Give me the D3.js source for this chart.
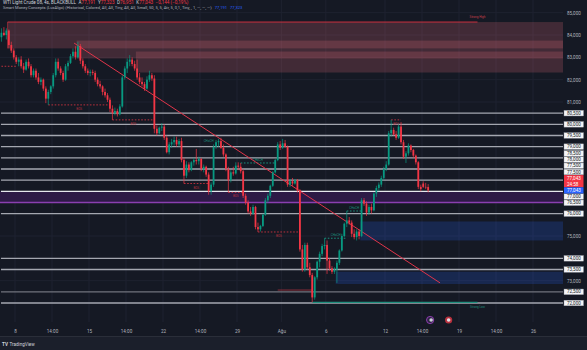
<!DOCTYPE html>
<html><head><meta charset="utf-8">
<script src="https://cdn.jsdelivr.net/npm/d3@7/dist/d3.min.js"></script>
<style>html,body{margin:0;padding:0;background:#151924;overflow:hidden}svg{display:block}</style>
</head><body><svg id="c" width="587" height="350"></svg>
<script>
// ---------- DATA ----------
const opens  = [83.9,84.1,84.0,84.2,83.55,83.3,83.0,82.8,82.9,82.6,82.45,82.8,82.6,82.2,82.4,82.1,81.9,82.0,81.6,81.15,
81.45,81.7,82.2,82.8,82.5,82.3,82.0,82.6,82.75,83.05,83.25,83.0,83.5,82.85,82.6,82.4,82.3,82.35,82.3,82.0,
81.8,81.7,81.45,81.3,81.1,80.7,80.5,80.6,80.45,80.8,82.1,82.5,82.8,82.9,82.7,82.5,82.1,81.9,81.8,81.6,
82.0,82.2,82.05,79.8,79.6,79.85,79.9,79.4,78.75,79.1,79.2,79.3,79.1,79.25,78.4,77.7,78.2,77.95,78.3,78.4,
78.35,78.45,78.0,78.1,77.75,77.0,77.3,79.0,79.2,79.25,78.95,78.65,78.0,77.5,77.85,77.8,78.15,78.1,77.9,76.8,
76.5,76.1,76.0,76.3,75.4,75.3,75.45,75.95,76.6,76.8,77.25,77.85,78.4,79.1,78.95,79.15,79.0,77.3,77.45,77.35,
77.5,77.05,74.4,73.5,74.6,73.6,73.25,72.25,73.15,73.85,74.2,74.55,74.6,73.9,73.55,73.4,73.5,73.8,74.35,75.0,
75.55,75.7,75.6,75.1,74.95,75.2,75.0,76.6,76.45,76.05,76.3,76.15,76.9,77.15,77.3,77.6,78.0,78.2,79.6,79.75,
79.55,79.4,79.9,79.2,78.55,78.7,79.05,78.85,78.6,78.3,77.2,77.35,77.2,77.191];
const highs  = [84.3,84.35,84.3,84.25,83.7,83.4,83.1,83.0,83.05,82.75,82.9,82.95,82.7,82.5,82.5,82.3,82.1,82.05,81.7,81.55,
81.75,82.3,82.95,82.95,82.6,82.4,82.7,82.85,83.15,83.4,83.5,83.7,83.6,82.95,82.7,82.5,82.45,82.45,82.4,82.1,
81.95,81.75,81.6,81.4,81.2,80.85,80.75,80.7,80.9,82.2,82.6,82.95,83.1,83.0,82.85,82.9,82.3,82.1,81.9,82.15,
82.4,82.3,82.2,79.95,79.9,80.05,80.0,79.5,79.2,79.35,79.45,79.45,79.35,79.4,78.5,78.35,78.3,78.35,78.5,78.9,
78.55,78.5,78.2,78.15,77.85,77.4,79.1,79.3,79.35,79.4,79.1,78.7,78.1,77.95,78.1,78.3,78.3,78.27,78.0,76.9,
76.6,76.3,76.4,76.35,75.6,75.5,76.0,76.7,76.9,77.3,77.9,78.45,79.2,79.25,79.35,79.3,79.05,77.55,77.6,77.55,
77.55,77.1,74.6,74.7,74.7,73.8,73.35,73.2,73.9,74.3,74.65,74.9,74.8,74.0,73.65,73.6,73.9,74.4,75.1,75.6,
76.12,75.85,75.7,75.3,75.3,75.3,76.7,76.7,76.55,76.4,76.45,76.95,77.25,77.4,77.7,78.1,78.35,79.7,80.2,79.85,
79.7,80.0,80.1,79.3,78.8,79.15,79.1,78.9,78.65,78.35,77.3,77.45,77.38,77.323];
const lows   = [83.7,83.95,83.8,83.4,83.2,82.9,82.7,82.6,82.5,82.3,82.4,82.5,82.1,82.1,82.0,81.8,81.75,81.5,80.95,80.87,
81.35,81.6,82.1,82.4,82.2,81.9,81.95,82.4,82.7,82.95,82.9,82.95,82.7,82.5,82.3,82.2,82.15,82.2,81.9,81.7,
81.6,81.3,81.2,81.0,80.55,80.2,80.4,80.35,80.4,80.75,82.0,82.3,82.6,82.6,82.4,82.0,81.8,81.7,81.5,81.55,
81.9,81.95,79.6,79.5,79.55,79.7,79.3,78.7,78.65,78.95,79.05,79.0,79.0,78.3,77.35,77.6,77.85,77.9,78.15,78.2,
78.2,77.9,77.85,77.65,76.85,76.85,77.2,78.9,79.0,78.9,78.55,77.9,76.95,77.4,77.7,77.75,77.95,77.8,76.7,76.4,
76.0,75.9,75.95,75.3,75.18,75.2,75.4,75.9,76.5,76.7,77.2,77.8,78.35,78.85,78.9,78.95,77.2,77.2,77.25,77.3,
76.95,74.3,73.4,73.4,73.5,73.15,72.03,72.15,73.05,73.6,74.1,74.4,73.3,73.45,73.3,73.3,72.9,73.7,74.3,74.95,
75.4,75.5,74.95,74.85,74.8,74.85,74.95,76.35,75.9,75.95,76.0,76.1,76.75,77.0,77.2,77.5,77.9,78.15,79.45,79.5,
79.3,79.35,79.1,78.45,78.27,78.6,78.75,78.5,78.2,77.1,77.0,77.15,77.1,76.951];
const closes = [84.1,84.0,84.2,83.55,83.3,83.0,82.8,82.9,82.6,82.45,82.8,82.6,82.2,82.4,82.1,81.9,82.0,81.6,81.15,81.45,
81.7,82.2,82.8,82.5,82.3,82.0,82.6,82.75,83.05,83.25,83.0,83.5,82.85,82.6,82.4,82.3,82.35,82.3,82.0,81.8,
81.7,81.45,81.3,81.1,80.7,80.5,80.6,80.45,80.8,82.1,82.5,82.8,82.9,82.7,82.5,82.1,81.9,81.8,81.6,82.0,
82.2,82.05,79.8,79.6,79.85,79.9,79.4,78.75,79.1,79.2,79.3,79.1,79.25,78.4,77.7,78.2,77.95,78.3,78.4,78.35,
78.45,78.0,78.1,77.75,77.0,77.3,79.0,79.2,79.25,78.95,78.65,78.0,77.5,77.85,77.8,78.15,78.1,77.9,76.8,76.5,
76.1,76.0,76.3,75.4,75.3,75.45,75.95,76.6,76.8,77.25,77.85,78.4,79.1,78.95,79.15,79.0,77.3,77.45,77.35,77.5,
77.05,74.4,73.5,74.6,73.6,73.25,72.25,73.15,73.85,74.2,74.55,74.6,73.9,73.55,73.4,73.5,73.8,74.35,75.0,75.55,
75.7,75.6,75.1,74.95,75.2,75.0,76.6,76.45,76.05,76.3,76.15,76.9,77.15,77.3,77.6,78.0,78.2,79.6,79.75,79.55,
79.4,79.9,79.2,78.55,78.7,79.05,78.85,78.6,78.3,77.2,77.1,77.2,77.191,77.043];

const barsPerDay = 6;
const firstBarDay = -1;            // trading-day index of first bar (0 = 8 Jul)
const tickDays   = [0, 2.5, 5, 7.5, 10, 12.5, 15, 18, 21, 25, 27.5, 30, 32.5, 35];
const tickLabels = ["8","14:00","15","14:00","22","14:00","29","Ağu","6","12","14:00","19","14:00","26"];
const priceTicks = [85, 84, 83, 82, 81, 75, 73];
const gridPrices = [73,74,75,76,77,78,79,80,81,82,83,84,85];
const levels = [80.5, 80, 79.5, 79, 78.5, 78, 77.5, 77, 76, 74, 73.5, 72.5, 72];
const levelLabels = [80.5, 80, 79.5, 79, 78.5, 78, 77.5, 77.5, 77, 76.5, 76, 74, 73.5, 72.5, 72];
// [start bar, top, bottom]
const bearZones = [[3, 84.58, 83.4], [31, 83.75, 82.95], [55, 83.26, 82.32]];
const bullZones = [[146, 75.65, 74.8], [136, 73.4, 72.85]];
const purpleZone = [77.0, 76.5];
// [from bar, to bar, price, side, label]
const structLines = [
  [0, 6, 82.6, "bear", ""],
  [19, 44, 80.87, "bear", "BOS"],
  [45, 62, 80.2, "bear", "BOS"],
  [74, 84, 77.35, "bear", "BOS"],
  [92, 98, 76.95, "bear", "BOS"],
  [97, 111, 78.27, "bull", "CHoCH"],
  [104, 121, 75.18, "bear", "BOS"],
  [131, 140, 74.9, "bull", "CHoCH"],
  [140, 146, 76.12, "bull", "CHoCH"],
  [158, 162, 80.2, "bear", "BOS"]
];
const chochLabels = [[84, 79.2, "CHoCH"]];
const strongHigh = [3, 193, 84.58, "Strong High"];
const strongLow  = [126, 193, 72.03, "Strong Low"];
const weakLine   = [112, 126, 72.58];
const trendLine  = [[3.99, 83.64], [28.72, 72.9]];   // [day, price]
const eventDays  = [28.05, 29.3];
const header1 = "WTI Light Crude 08, 4s, BLACKBULL";
const ohlcNames = ["A","Y","D","K"];
const change = "−0,144 (−0,19%)";
const header2 = "Smart Money Concepts (LuxAlgo) (Historical, Colored, All, All, Tiny, All, All, Small, 50, 5, 5, Atr, 5, 0,1, Tiny, , 1, —, —, —)";
const header2Vals = [77.191, 77.323];
const countdown = "24:58";

// ---------- SETUP ----------
const W = 587, H = 350, plotR = 563, plotB = 322;
const svg = d3.select("#c");
const FONT = "Roboto, 'Liberation Sans', sans-serif";
const loc = d3.formatLocale({decimal: ",", thousands: ".", grouping: [3], currency: ["", ""]});
const f3 = loc.format(".3f");
const x = d3.scaleLinear().domain([-1, 37]).range([0.2, 562.6]);
const y = d3.scaleLinear().domain([72, 84]).range([303, 35]);
const barDay = k => firstBarDay + (k + 0.5) / barsPerDay;
const bx = k => x(barDay(k));
const step = x(1 / barsPerDay) - x(0);

svg.append("rect").attr("width", W).attr("height", H).attr("fill", "#151924");
svg.append("rect").attr("y", 337).attr("width", W).attr("height", 13).attr("fill", "#1b1f2b");

const clip = svg.append("defs").append("clipPath").attr("id", "pc")
  .append("rect").attr("width", plotR).attr("height", plotB);
const plot = svg.append("g").attr("clip-path", "url(#pc)");

// grid
plot.append("g").selectAll("line").data(tickDays).join("line")
  .attr("x1", d => x(d)).attr("x2", d => x(d)).attr("y1", 0).attr("y2", plotB)
  .attr("stroke", "#1e2230").attr("stroke-width", 1);
plot.append("g").selectAll("line").data(gridPrices).join("line")
  .attr("x1", 0).attr("x2", plotR).attr("y1", d => y(d)).attr("y2", d => y(d))
  .attr("stroke", "#1e2230").attr("stroke-width", 1);

// bearish order blocks
plot.append("g").selectAll("rect").data(bearZones).join("rect")
  .attr("x", d => bx(d[0]) - step / 2).attr("width", d => plotR + 1 - (bx(d[0]) - step / 2))
  .attr("y", d => y(d[1])).attr("height", d => y(d[2]) - y(d[1]))
  .attr("fill", "rgba(232,110,122,0.21)");
plot.append("line").attr("x1", bx(bearZones[0][0]) - step / 2).attr("x2", bx(bearZones[0][0]) - step / 2)
  .attr("y1", y(bearZones[0][1])).attr("y2", y(bearZones[0][2]))
  .attr("stroke", "rgba(242,54,69,0.6)").attr("stroke-width", 0.8);

// bullish order blocks
plot.append("g").selectAll("rect").data(bullZones).join("rect")
  .attr("x", d => bx(d[0]) - step / 2).attr("width", d => plotR + 1 - (bx(d[0]) - step / 2))
  .attr("y", d => y(d[1])).attr("height", d => y(d[2]) - y(d[1]))
  .attr("fill", "rgba(41,98,255,0.2)");

// purple zone
plot.append("rect").attr("x", 0).attr("width", plotR).attr("y", y(purpleZone[0]))
  .attr("height", y(purpleZone[1]) - y(purpleZone[0])).attr("fill", "#2d1a46");
plot.append("line").attr("x1", 0).attr("x2", plotR).attr("y1", y(purpleZone[1])).attr("y2", y(purpleZone[1]))
  .attr("stroke", "#8a3fb0").attr("stroke-width", 1.4);

// horizontal levels
plot.append("g").selectAll("line").data(levels).join("line")
  .attr("x1", 1).attr("x2", plotR).attr("y1", d => y(d)).attr("y2", d => y(d))
  .attr("stroke", d => d === 77 ? "#e6e8ee" : (d === 72.5 ? "#70737d" : "#a4a7b0"))
  .attr("stroke-width", 1.3);

// weak line
plot.append("line").attr("x1", bx(weakLine[0])).attr("x2", bx(weakLine[1]))
  .attr("y1", y(weakLine[2])).attr("y2", y(weakLine[2])).attr("stroke", "#8c2b38").attr("stroke-width", 1);

// strong high / low
plot.append("line").attr("x1", bx(strongHigh[0]) - step / 2).attr("x2", bx(strongHigh[1]))
  .attr("y1", y(strongHigh[2])).attr("y2", y(strongHigh[2])).attr("stroke", "#c8303e").attr("stroke-width", 1);
plot.append("text").attr("x", bx(strongHigh[1])).attr("y", y(strongHigh[2]) - 4)
  .attr("text-anchor", "middle").attr("font-size", 3).attr("font-family", FONT).attr("fill", "#c8404c").text(strongHigh[3]);
plot.append("line").attr("x1", bx(strongLow[0])).attr("x2", bx(strongLow[1]))
  .attr("y1", y(strongLow[2])).attr("y2", y(strongLow[2])).attr("stroke", "#1f8f7e").attr("stroke-width", 1.3);
plot.append("text").attr("x", bx(strongLow[1])).attr("y", y(strongLow[2]) + 6)
  .attr("text-anchor", "middle").attr("font-size", 3).attr("font-family", FONT).attr("fill", "#1f8f7e").text(strongLow[3]);

// structure lines
const sg = plot.append("g");
sg.selectAll("line").data(structLines).join("line")
  .attr("x1", d => bx(d[0])).attr("x2", d => bx(d[1]))
  .attr("y1", d => y(d[2])).attr("y2", d => y(d[2]))
  .attr("stroke", d => d[3] === "bear" ? "#b8303d" : "#1b8f7c")
  .attr("stroke-width", 1).attr("stroke-dasharray", "1.6,1.6");
sg.selectAll("text").data(structLines.filter(d => d[4])).join("text")
  .attr("x", d => (bx(d[0]) + bx(d[1])) / 2)
  .attr("y", d => d[3] === "bear" ? y(d[2]) + 5 : y(d[2]) - 2)
  .attr("text-anchor", "middle").attr("font-size", 3).attr("font-family", FONT)
  .attr("fill", d => d[3] === "bear" ? "#b8303d" : "#1b8f7c").text(d => d[4]);
plot.append("g").selectAll("text").data(chochLabels).join("text")
  .attr("x", d => bx(d[0])).attr("y", d => y(d[1])).attr("text-anchor", "middle")
  .attr("font-size", 3).attr("font-family", FONT).attr("fill", "#1b8f7c").text(d => d[2]);

// trend line
plot.append("line").attr("x1", x(trendLine[0][0])).attr("y1", y(trendLine[0][1]))
  .attr("x2", x(trendLine[1][0])).attr("y2", y(trendLine[1][1]))
  .attr("stroke", "#e0354a").attr("stroke-width", 1);

// candles
const bars = closes.map((c, i) => ({i, o: opens[i], h: highs[i], l: lows[i], c}));
const cg = plot.append("g");
cg.selectAll("line").data(bars).join("line")
  .attr("x1", d => bx(d.i)).attr("x2", d => bx(d.i)).attr("y1", d => y(d.h)).attr("y2", d => y(d.l))
  .attr("stroke", d => d.c >= d.o ? "#089981" : "#f23645").attr("stroke-width", 0.7);
cg.selectAll("rect").data(bars).join("rect")
  .attr("x", d => bx(d.i) - 0.9).attr("width", 1.8)
  .attr("y", d => y(Math.max(d.o, d.c))).attr("height", d => Math.max(0.6, Math.abs(y(d.o) - y(d.c))))
  .attr("fill", d => d.c >= d.o ? "#089981" : "#f23645");

// event icons
const eg = svg.append("g");
eg.append("circle").attr("cx", x(eventDays[0])).attr("cy", 320).attr("r", 3.6).attr("fill", "#2a2440").attr("stroke", "#9c3fc0").attr("stroke-width", 0.9);
eg.append("circle").attr("cx", x(eventDays[0]) + 1).attr("cy", 320).attr("r", 1.8).attr("fill", "#c9ccd6");
eg.append("circle").attr("cx", x(eventDays[1])).attr("cy", 320).attr("r", 3.6).attr("fill", "#b8303d");
eg.append("circle").attr("cx", x(eventDays[1])).attr("cy", 320).attr("r", 1.8).attr("fill", "#dfe1e8");

// price axis plain ticks
const ya = d3.axisRight(y).tickValues(priceTicks).tickSize(0).tickPadding(0).tickFormat(f3);
const yag = svg.append("g").attr("transform", `translate(567,0)`).call(ya);
yag.select(".domain").remove();
yag.selectAll("text").attr("fill", "#b2b5be").attr("font-size", 4.6).attr("font-family", FONT).attr("x", 0).attr("dy", "0.35em");

// price axis boxed labels with stacking
const boxH = 6.2, redH = 12.2, boxX = 564, boxW = 19.5;
const cur = closes[closes.length - 1];
const blueY = y(cur);
const redY = blueY - boxH / 2 - redH / 2;
const items = levelLabels.map(v => ({v, ty: y(v)}));
let lim = redY - redH / 2;
items.filter(d => d.v > cur).sort((a, b) => b.ty - a.ty).forEach(d => {
  const bottom = Math.min(d.ty + boxH / 2, lim); d.cy = bottom - boxH / 2; lim = d.cy - boxH / 2;
});
let limB = blueY + boxH / 2;
items.filter(d => d.v <= cur).sort((a, b) => a.ty - b.ty).forEach(d => {
  const top = Math.max(d.ty - boxH / 2, limB); d.cy = top + boxH / 2; limB = d.cy + boxH / 2;
});
const lg = svg.append("g");
const lab = lg.selectAll("g").data(items).join("g").attr("transform", d => `translate(${boxX},${d.cy})`);
lab.append("rect").attr("x", 0).attr("y", -boxH / 2 + 0.3).attr("width", boxW).attr("height", boxH - 0.6)
  .attr("fill", "#f4f5f8").attr("stroke", "#9598a1").attr("stroke-width", 0.4);
lab.append("text").attr("x", 3).attr("y", 0).attr("dy", "0.36em").attr("font-size", 4.6).attr("font-family", FONT)
  .attr("fill", "#131722").text(d => f3(d.v));
// red current price
const rg = svg.append("g").attr("transform", `translate(${boxX},${redY})`);
rg.append("rect").attr("y", -redH / 2).attr("width", boxW).attr("height", redH).attr("fill", "#f23645");
rg.append("text").attr("x", 3).attr("y", -2.6).attr("dy", "0.36em").attr("font-size", 4.6).attr("font-family", FONT).attr("fill", "#fff").text(f3(cur));
rg.append("text").attr("x", 3).attr("y", 2.8).attr("dy", "0.36em").attr("font-size", 4.6).attr("font-family", FONT).attr("fill", "#fff").text(countdown);
const bg = svg.append("g").attr("transform", `translate(${boxX},${blueY})`);
bg.append("rect").attr("y", -boxH / 2).attr("width", boxW).attr("height", boxH).attr("fill", "#2962ff");
bg.append("text").attr("x", 3).attr("dy", "0.36em").attr("font-size", 4.6).attr("font-family", FONT).attr("fill", "#fff").text(f3(cur));

// time axis
const xa = d3.axisBottom(x).tickValues(tickDays).tickSize(0).tickPadding(0).tickFormat((d, i) => tickLabels[i]);
const xag = svg.append("g").attr("transform", `translate(0,328)`).call(xa);
xag.select(".domain").remove();
xag.selectAll("text").attr("fill", "#b2b5be").attr("font-size", 4.6).attr("font-family", FONT).attr("dy", "0.35em").attr("y", 3);
svg.append("line").attr("x1", 0).attr("x2", W).attr("y1", 336.5).attr("y2", 336.5).attr("stroke", "#2a2e39").attr("stroke-width", 1);

// header
const t1 = svg.append("text").attr("x", 3).attr("y", 4.2).attr("font-size", 4.6).attr("font-family", FONT).attr("fill", "#d1d4dc");
t1.append("tspan").text(header1);
const ohlc = [opens[opens.length - 1], highs[highs.length - 1], lows[lows.length - 1], cur];
ohlcNames.forEach((n, i) => {
  t1.append("tspan").attr("dx", 2.5).text(n);
  t1.append("tspan").attr("fill", "#f23645").text(f3(ohlc[i]));
});
t1.append("tspan").attr("dx", 2.5).attr("fill", "#f23645").text(change);
const t2 = svg.append("text").attr("x", 3).attr("y", 9.2).attr("font-size", 4.1).attr("font-family", FONT).attr("fill", "#b2b5be");
t2.append("tspan").text(header2);
header2Vals.forEach(v => t2.append("tspan").attr("dx", 3).attr("fill", "#2962ff").text(f3(v)));

// footer logo
const ft = svg.append("text").attr("x", 2).attr("y", 345.5).attr("font-size", 4.6).attr("font-family", FONT).attr("fill", "#d1d4dc");
ft.append("tspan").attr("font-weight", "bold").text("TV");
ft.append("tspan").attr("dx", 1.5).text("TradingView");
</script></body></html>
